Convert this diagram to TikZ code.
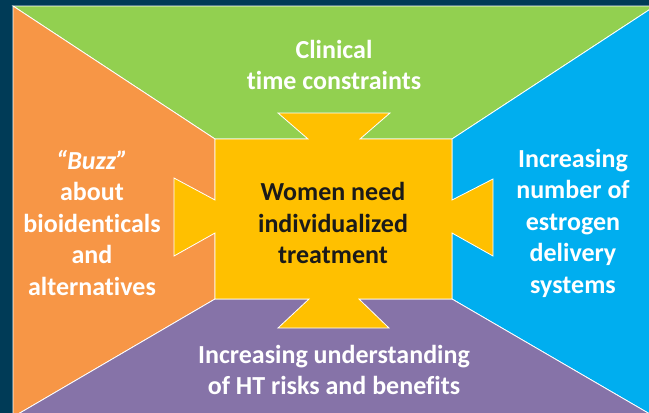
\documentclass[tikz,border=0pt]{standalone}
\usepackage{fontspec}
\setmainfont{Carlito}[Ligatures=NoCommon]
\usepackage{xcolor}

\definecolor{slide}{RGB}{0,59,87}
\definecolor{leaf}{RGB}{146,208,80}
\definecolor{peach}{RGB}{247,150,70}
\definecolor{sky}{RGB}{0,174,239}
\definecolor{lilac}{RGB}{134,115,168}
\definecolor{gold}{RGB}{255,192,0}
\definecolor{ink}{RGB}{26,26,26}

\tikzset{
  panel/.style={draw=white, line width=0.8pt, line join=miter},
  label/.style={text=white, font=\bfseries\fontsize{26}{31.5}\selectfont, align=center},
}

\begin{document}
\begin{tikzpicture}[x=1pt, y=-1pt]
    % Slide background
    \useasboundingbox (0,0) rectangle (649,413);
    \fill[slide] (0,0) rectangle (649,413);
    % Corners of the frame and of the centre box
    \coordinate (tl) at (13,6);
    \coordinate (tr) at (655,6);
    \coordinate (br) at (655,417);
    \coordinate (bl) at (13,417);
    \coordinate (a) at (215,139);
    \coordinate (b) at (452,139);
    \coordinate (c) at (452,299);
    \coordinate (d) at (215,299);
    % Four panels
    \filldraw[panel, fill=leaf] (tl) -- (tr) -- (b) -- (a) -- cycle;
    \filldraw[panel, fill=peach] (tl) -- (a) -- (d) -- (bl) -- cycle;
    \filldraw[panel, fill=sky] (tr) -- (br) -- (c) -- (b) -- cycle;
    \filldraw[panel, fill=lilac] (bl) -- (d) -- (c) -- (br) -- cycle;
    % Centre box with its four tabs
    \filldraw[panel, fill=gold] (a) -- (308,139) -- (278,113) -- (390,113) -- (360,139)
        -- (b) -- (452,200) -- (493,179) -- (493,256) -- (452,233)
        -- (c) -- (359,299) -- (389,328) -- (278,328) -- (309,299)
        -- (d) -- (215,233) -- (174,256) -- (174,178) -- (215,200) -- cycle;
    % Labels
    \node[label] (clinical) at (334,65) {Clinical\\time constraints};
    \node[label] (buzz) at (92,223) {\textit{“Buzz”}\\about\\bioidenticals\\and\\alternatives};
    \node[label] (delivery) at (573,223) {Increasing\\number of\\estrogen\\delivery\\systems};
    \node[label] (risks) at (334,370) {Increasing understanding\\of HT risks and benefits};
    \node[label, text=ink] (women) at (333,223) {Women need\\individualized\\treatment};
\end{tikzpicture}
\end{document}
